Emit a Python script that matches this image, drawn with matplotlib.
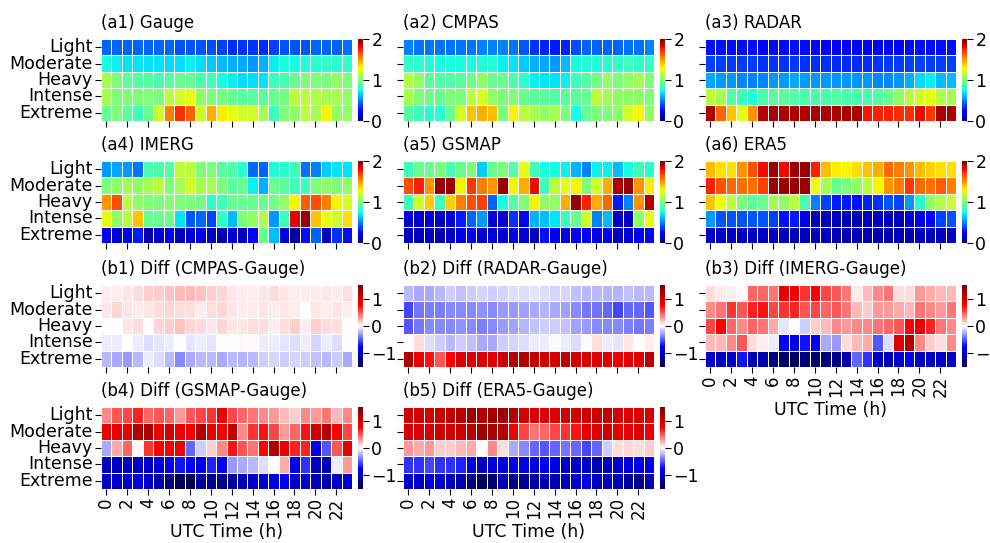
import numpy as np
import matplotlib
matplotlib.use("Agg")
import matplotlib.pyplot as plt
import seaborn as sns

intensity = ['Light', 'Moderate', 'Heavy', 'Intense', 'Extreme']
hours = list(range(24))

# mean rainfall (mm/h) per intensity class and UTC hour
gauge = [
    [0.45, 0.45, 0.45, 0.45, 0.45, 0.45, 0.45, 0.42, 0.42, 0.42, 0.40, 0.38, 0.33, 0.35, 0.35, 0.33, 0.38, 0.42, 0.42, 0.42, 0.45, 0.45, 0.45, 0.47],
    [0.75, 0.72, 0.70, 0.70, 0.70, 0.70, 0.68, 0.68, 0.72, 0.68, 0.65, 0.62, 0.60, 0.58, 0.55, 0.60, 0.72, 0.75, 0.75, 0.78, 0.80, 0.82, 0.80, 0.82],
    [1.10, 1.00, 0.92, 0.90, 0.90, 0.88, 0.90, 0.95, 0.95, 0.88, 0.85, 0.75, 0.72, 0.68, 0.68, 0.70, 0.85, 0.88, 0.95, 1.00, 1.00, 1.00, 1.05, 1.00],
    [1.10, 1.00, 1.00, 1.00, 1.00, 1.00, 1.15, 1.20, 1.25, 1.05, 1.00, 0.98, 0.95, 0.92, 0.92, 0.92, 0.95, 0.98, 1.15, 1.15, 1.12, 1.10, 1.10, 1.05],
    [0.95, 1.00, 0.92, 0.85, 0.95, 1.20, 1.55, 1.72, 1.62, 1.20, 1.45, 1.32, 1.25, 1.20, 1.20, 1.10, 0.85, 1.00, 1.05, 1.15, 1.10, 1.30, 1.05, 1.05],
]
cmpas = [
    [0.50, 0.48, 0.48, 0.48, 0.48, 0.48, 0.48, 0.50, 0.50, 0.50, 0.48, 0.42, 0.35, 0.32, 0.30, 0.32, 0.40, 0.45, 0.45, 0.45, 0.45, 0.47, 0.47, 0.50],
    [0.82, 0.80, 0.78, 0.75, 0.75, 0.75, 0.75, 0.78, 0.78, 0.72, 0.70, 0.65, 0.60, 0.58, 0.55, 0.62, 0.75, 0.78, 0.78, 0.80, 0.82, 0.85, 0.82, 0.82],
    [1.12, 1.05, 0.92, 0.90, 0.90, 0.92, 0.98, 1.05, 0.95, 0.95, 0.88, 0.80, 0.72, 0.70, 0.70, 0.72, 0.85, 0.90, 0.98, 1.05, 1.00, 1.05, 1.10, 1.00],
    [1.10, 1.00, 0.98, 0.95, 1.00, 1.00, 1.15, 1.22, 1.05, 1.00, 1.00, 0.95, 0.92, 0.92, 0.90, 0.92, 0.92, 0.95, 1.15, 1.10, 1.05, 1.05, 1.05, 1.00],
    [0.90, 0.85, 0.80, 0.80, 0.95, 1.20, 1.40, 1.45, 1.42, 1.00, 1.30, 1.15, 1.10, 1.05, 1.10, 1.00, 0.75, 0.95, 1.00, 1.00, 1.05, 1.20, 1.30, 1.05],
]
radar = [
    [0.28, 0.28, 0.27, 0.28, 0.28, 0.26, 0.27, 0.27, 0.28, 0.27, 0.26, 0.26, 0.25, 0.25, 0.25, 0.25, 0.26, 0.24, 0.26, 0.27, 0.28, 0.27, 0.28, 0.28],
    [0.38, 0.37, 0.36, 0.36, 0.36, 0.35, 0.35, 0.35, 0.36, 0.35, 0.34, 0.34, 0.33, 0.33, 0.33, 0.34, 0.35, 0.36, 0.36, 0.37, 0.38, 0.37, 0.37, 0.38],
    [0.58, 0.56, 0.55, 0.52, 0.50, 0.52, 0.55, 0.56, 0.58, 0.56, 0.55, 0.55, 0.54, 0.54, 0.54, 0.55, 0.52, 0.52, 0.55, 0.60, 0.68, 0.72, 0.62, 0.62],
    [1.15, 1.10, 0.90, 0.85, 0.78, 0.88, 0.92, 0.92, 0.90, 0.88, 0.88, 0.88, 0.90, 0.88, 0.88, 0.88, 0.90, 0.95, 1.05, 1.15, 1.20, 1.25, 1.12, 1.10],
    [1.92, 1.60, 1.40, 1.25, 1.50, 1.90, 1.92, 1.92, 1.92, 1.92, 1.92, 1.92, 1.92, 1.92, 1.92, 1.78, 1.75, 1.75, 1.72, 1.72, 1.80, 1.70, 1.92, 1.92],
]
imerg = [
    [0.55, 0.58, 0.55, 0.48, 0.88, 0.88, 0.90, 1.15, 1.15, 1.00, 1.00, 0.92, 0.90, 0.80, 0.45, 0.45, 0.78, 0.80, 0.85, 0.48, 0.50, 0.65, 0.70, 0.70],
    [1.00, 1.05, 1.10, 1.05, 1.10, 1.15, 1.00, 1.10, 1.20, 1.10, 1.10, 1.00, 0.92, 0.95, 0.72, 0.60, 0.95, 0.92, 0.85, 0.85, 1.00, 1.05, 1.00, 1.05],
    [1.50, 1.65, 1.15, 1.05, 1.00, 1.00, 1.02, 1.00, 1.00, 0.98, 0.80, 0.85, 0.95, 0.95, 0.95, 0.95, 0.98, 1.05, 1.30, 1.62, 1.65, 1.55, 1.30, 1.22],
    [1.25, 1.05, 1.15, 1.40, 0.95, 0.95, 0.98, 0.70, 0.42, 0.45, 0.38, 0.82, 0.62, 1.00, 1.05, 1.12, 0.55, 0.85, 1.82, 1.95, 1.40, 1.25, 1.20, 1.35],
    [0.22, 0.15, 0.20, 0.30, 0.08, 0.15, 0.22, 0.12, 0.15, 0.18, 0.12, 0.10, 0.15, 0.12, 0.25, 0.95, 0.62, 0.15, 0.06, 0.28, 0.45, 0.12, 0.35, 0.28],
]
gsmap = [
    [0.85, 0.95, 0.95, 1.00, 0.88, 0.95, 1.00, 0.65, 0.95, 1.00, 0.90, 1.25, 0.85, 0.75, 0.75, 0.72, 0.60, 0.50, 0.72, 0.72, 0.62, 0.75, 0.85, 0.80],
    [1.65, 1.75, 1.50, 1.95, 1.95, 1.30, 1.70, 1.55, 1.50, 1.95, 1.30, 1.45, 1.80, 0.85, 1.15, 1.25, 1.30, 1.00, 1.20, 1.45, 1.92, 1.95, 1.50, 1.32],
    [0.85, 1.20, 1.38, 0.85, 1.38, 1.55, 1.65, 1.68, 0.45, 0.75, 0.90, 1.00, 1.30, 1.05, 1.05, 1.45, 1.95, 1.75, 1.45, 1.60, 0.30, 0.50, 1.50, 1.90],
    [0.15, 0.15, 0.15, 0.12, 0.15, 0.30, 0.45, 0.55, 0.15, 0.15, 0.35, 0.25, 0.60, 0.62, 0.70, 0.85, 0.95, 1.20, 0.50, 0.62, 0.12, 0.12, 1.05, 1.25],
    [0.12, 0.12, 0.12, 0.10, 0.12, 0.18, 0.20, 0.15, 0.15, 0.15, 0.18, 0.15, 0.10, 0.28, 0.20, 0.18, 0.20, 0.22, 0.18, 0.20, 0.12, 0.15, 0.22, 0.25],
]
era5 = [
    [1.42, 1.35, 1.35, 1.50, 1.65, 1.80, 1.95, 1.80, 1.95, 1.95, 1.75, 1.42, 1.32, 1.30, 1.35, 1.40, 1.45, 1.60, 1.55, 1.50, 1.42, 1.38, 1.35, 1.35],
    [1.75, 1.65, 1.60, 1.58, 1.58, 1.68, 1.95, 1.95, 1.95, 1.95, 1.28, 1.10, 0.95, 1.00, 1.05, 1.15, 1.30, 1.50, 1.55, 1.70, 1.60, 1.58, 1.62, 1.55],
    [1.40, 1.28, 1.15, 1.00, 0.92, 0.95, 1.10, 1.05, 1.15, 0.88, 0.50, 0.38, 0.30, 0.30, 0.28, 0.32, 0.35, 0.42, 0.38, 0.55, 0.80, 1.05, 1.12, 1.18],
    [0.55, 0.42, 0.42, 0.42, 0.42, 0.42, 0.38, 0.28, 0.30, 0.18, 0.12, 0.12, 0.12, 0.10, 0.10, 0.12, 0.12, 0.12, 0.10, 0.15, 0.18, 0.25, 0.38, 0.42],
    [0.14, 0.13, 0.13, 0.13, 0.12, 0.12, 0.11, 0.10, 0.10, 0.11, 0.11, 0.11, 0.10, 0.10, 0.10, 0.10, 0.10, 0.10, 0.10, 0.10, 0.11, 0.11, 0.12, 0.12],
]

# differences against gauge
diff_cmpas = [
    [0.05, 0.05, 0.08, 0.10, 0.15, 0.15, 0.18, 0.20, 0.20, 0.18, 0.15, 0.12, 0.08, 0.05, 0.05, 0.08, 0.10, 0.08, 0.05, 0.05, 0.05, 0.08, 0.05, 0.10],
    [0.08, 0.12, 0.08, 0.05, 0.08, 0.10, 0.12, 0.10, 0.10, 0.05, 0.10, 0.12, 0.08, 0.05, 0.05, 0.08, 0.05, 0.08, 0.05, 0.00, 0.08, 0.05, 0.08, 0.05],
    [0.00, 0.00, 0.08, 0.10, 0.00, 0.12, 0.15, 0.18, 0.12, 0.10, 0.08, 0.12, 0.08, 0.08, 0.10, 0.10, 0.05, 0.10, 0.15, 0.05, 0.15, 0.10, 0.10, 0.00],
    [-0.05, -0.05, 0.00, -0.05, -0.10, -0.08, -0.05, 0.00, -0.08, -0.05, -0.08, 0.00, 0.00, 0.02, -0.02, -0.05, -0.05, -0.08, -0.10, -0.05, -0.12, -0.05, -0.10, 0.00],
    [-0.20, -0.25, -0.30, -0.20, -0.05, -0.10, -0.20, -0.35, -0.25, -0.20, -0.20, -0.25, -0.20, -0.22, -0.20, -0.15, -0.12, -0.15, -0.12, -0.15, -0.18, -0.20, -0.15, -0.25],
]
diff_radar = [
    [-0.20, -0.25, -0.25, -0.20, -0.15, -0.18, -0.15, -0.12, -0.15, -0.12, -0.10, -0.10, -0.08, -0.10, -0.12, -0.12, -0.18, -0.20, -0.20, -0.22, -0.22, -0.18, -0.20, -0.20],
    [-0.55, -0.40, -0.38, -0.38, -0.35, -0.35, -0.35, -0.32, -0.35, -0.30, -0.30, -0.28, -0.25, -0.22, -0.25, -0.28, -0.35, -0.40, -0.42, -0.45, -0.55, -0.45, -0.45, -0.50],
    [-0.50, -0.40, -0.35, -0.35, -0.35, -0.32, -0.35, -0.38, -0.35, -0.30, -0.28, -0.22, -0.18, -0.15, -0.15, -0.18, -0.28, -0.30, -0.35, -0.35, -0.35, -0.38, -0.40, -0.38],
    [0.00, 0.10, -0.10, -0.15, -0.20, -0.15, -0.18, -0.25, -0.25, -0.15, -0.12, -0.10, -0.05, -0.05, -0.02, -0.05, -0.10, 0.02, 0.10, -0.05, -0.08, 0.08, 0.00, 0.05],
    [1.20, 0.85, 0.70, 0.50, 0.75, 0.95, 0.95, 0.95, 0.95, 1.05, 1.20, 1.20, 1.10, 1.00, 1.00, 1.10, 1.00, 0.95, 0.95, 0.95, 0.85, 0.90, 0.95, 1.15],
]
diff_imerg = [
    [0.10, 0.05, 0.05, 0.02, 0.45, 0.45, 0.40, 0.90, 0.85, 0.60, 0.75, 0.55, 0.50, 0.40, 0.05, 0.20, 0.35, 0.40, 0.10, 0.10, 0.30, 0.25, 0.20, 0.20],
    [0.35, 0.40, 0.60, 0.50, 0.65, 0.70, 0.55, 0.60, 0.65, 0.50, 0.55, 0.45, 0.50, 0.40, 0.20, 0.15, 0.30, 0.30, 0.25, 0.20, 0.40, 0.35, 0.30, 0.40],
    [0.55, 0.75, 0.45, 0.35, 0.45, 0.40, 0.25, -0.08, 0.00, -0.15, 0.15, 0.20, 0.35, 0.30, 0.35, 0.35, 0.40, 0.45, 0.50, 0.75, 0.85, 0.65, 0.40, 0.35],
    [0.20, 0.20, 0.35, 0.50, 0.10, 0.05, -0.05, -0.75, -0.85, -0.70, -0.80, -0.25, -0.30, 0.10, 0.20, 0.25, -0.50, -0.10, 0.95, 1.20, 0.35, 0.15, 0.10, 0.35],
    [-0.95, -1.00, -0.95, -0.70, -1.05, -1.10, -1.25, -1.40, -1.40, -1.30, -1.40, -1.30, -1.25, -1.10, -0.45, -0.60, -1.00, -1.05, -0.95, -0.80, -1.00, -1.00, -1.00, -0.95],
]
diff_gsmap = [
    [0.35, 0.50, 0.55, 0.65, 0.45, 0.50, 0.45, 0.30, 0.50, 0.55, 0.60, 0.85, 0.55, 0.45, 0.40, 0.35, 0.30, 0.20, 0.15, 0.35, 0.30, 0.40, 0.20, 0.35],
    [0.85, 0.90, 0.85, 1.20, 1.25, 0.85, 1.00, 0.85, 0.80, 1.20, 0.85, 0.80, 1.10, 0.35, 0.60, 0.70, 0.55, 0.30, 0.45, 0.70, 1.05, 1.15, 0.75, 0.55],
    [-0.25, 0.25, 0.45, 0.02, 0.60, 0.75, 0.80, 0.85, -0.45, -0.15, 0.15, 0.35, 0.70, 0.50, 0.40, 0.75, 1.20, 0.90, 0.65, 0.65, -0.85, -0.50, 0.50, 0.90],
    [-1.00, -1.00, -0.95, -1.00, -0.95, -0.90, -0.80, -0.70, -0.75, -0.85, -0.65, -0.75, -0.30, -0.25, -0.20, -0.10, 0.00, 0.25, -0.80, -0.60, -1.00, -1.05, -0.05, 0.30],
    [-0.95, -0.95, -0.95, -0.90, -0.95, -1.10, -1.30, -1.45, -1.50, -1.15, -1.20, -1.20, -1.15, -1.05, -1.00, -0.95, -0.90, -0.80, -0.95, -1.00, -1.05, -1.10, -1.00, -0.95],
]
diff_era5 = [
    [1.00, 1.00, 1.00, 1.05, 1.15, 1.15, 1.30, 1.20, 1.30, 1.30, 1.20, 1.00, 0.95, 0.95, 0.95, 1.00, 1.00, 1.05, 1.05, 1.10, 1.00, 0.95, 0.95, 0.95],
    [0.95, 0.95, 0.95, 1.00, 1.00, 1.05, 1.15, 1.30, 1.25, 1.20, 0.80, 0.55, 0.40, 0.45, 0.55, 0.60, 0.70, 0.90, 0.95, 1.00, 0.90, 0.90, 0.95, 0.85],
    [0.30, 0.25, 0.30, 0.15, 0.15, 0.20, 0.25, 0.00, 0.35, 0.10, -0.25, -0.35, -0.45, -0.50, -0.45, -0.40, -0.45, -0.55, -0.45, -0.15, 0.10, 0.12, 0.10, 0.15],
    [-0.60, -0.60, -0.55, -0.60, -0.60, -0.65, -0.85, -1.00, -0.90, -0.85, -0.85, -0.85, -0.90, -0.80, -0.85, -0.95, -0.95, -0.95, -1.05, -1.00, -0.95, -0.90, -0.85, -0.85],
    [-0.95, -0.95, -0.90, -0.95, -1.05, -1.10, -1.30, -1.45, -1.35, -1.10, -1.25, -1.20, -1.15, -1.10, -1.10, -1.05, -0.95, -0.85, -1.00, -1.00, -1.05, -1.15, -1.25, -1.05],
]

panels = [
    ('(a1) Gauge', gauge, 0, 0, 'abs'),
    ('(a2) CMPAS', cmpas, 0, 1, 'abs'),
    ('(a3) RADAR', radar, 0, 2, 'abs'),
    ('(a4) IMERG', imerg, 1, 0, 'abs'),
    ('(a5) GSMAP', gsmap, 1, 1, 'abs'),
    ('(a6) ERA5', era5, 1, 2, 'abs'),
    ('(b1) Diff (CMPAS-Gauge)', diff_cmpas, 2, 0, 'diff'),
    ('(b2) Diff (RADAR-Gauge)', diff_radar, 2, 1, 'diff'),
    ('(b3) Diff (IMERG-Gauge)', diff_imerg, 2, 2, 'diff'),
    ('(b4) Diff (GSMAP-Gauge)', diff_gsmap, 3, 0, 'diff'),
    ('(b5) Diff (ERA5-Gauge)', diff_era5, 3, 1, 'diff'),
]

W, H = 990, 543
col_x = [101, 403, 705]      # heatmap left edges (px)
map_w = 251
row_y = [39, 161, 285, 407]  # heatmap top edges (px)
map_h = 82
cb_gap, cb_w = 6, 5

fig = plt.figure(figsize=(W / 100, H / 100), dpi=100)
plt.rcParams['font.size'] = 12

for title, vals, r, c, kind in panels:
    x0, y0 = col_x[c], row_y[r]
    ax = fig.add_axes([x0 / W, 1 - (y0 + map_h) / H, map_w / W, map_h / H])
    cax = fig.add_axes([(x0 + map_w + cb_gap) / W, 1 - (y0 + map_h) / H, cb_w / W, map_h / H])
    if kind == 'abs':
        cmap, vmin, vmax, cticks = 'jet', 0, 2, [0, 1, 2]
    else:
        cmap, vmin, vmax, cticks = 'seismic', -1.5, 1.5, [-1, 0, 1]
    sns.heatmap(np.array(vals), ax=ax, cbar_ax=cax, cmap=cmap, vmin=vmin, vmax=vmax,
                linewidths=0.7, linecolor='white',
                cbar_kws={'ticks': cticks})
    cax.tick_params(labelsize=12.5, length=4, width=0.8, pad=2)
    ax.set_title(title, loc='left', fontsize=12, pad=8)

    ax.set_yticks(np.arange(5) + 0.5)
    if c == 0:
        ax.set_yticklabels(intensity, rotation=0, fontsize=12.5)
    else:
        ax.set_yticklabels([])
    ax.set_xticks(np.arange(0, 24, 2) + 0.5)
    last = (r == 3) or (r == 2 and c == 2)
    if last:
        ax.set_xticklabels([str(h) for h in hours[::2]], rotation=90, fontsize=12)
        ax.set_xlabel('UTC Time (h)', fontsize=12.5, labelpad=3)
    else:
        ax.set_xticklabels([])
    ax.tick_params(length=4, width=0.8, pad=2)

fig.savefig('out.png', dpi=100)
